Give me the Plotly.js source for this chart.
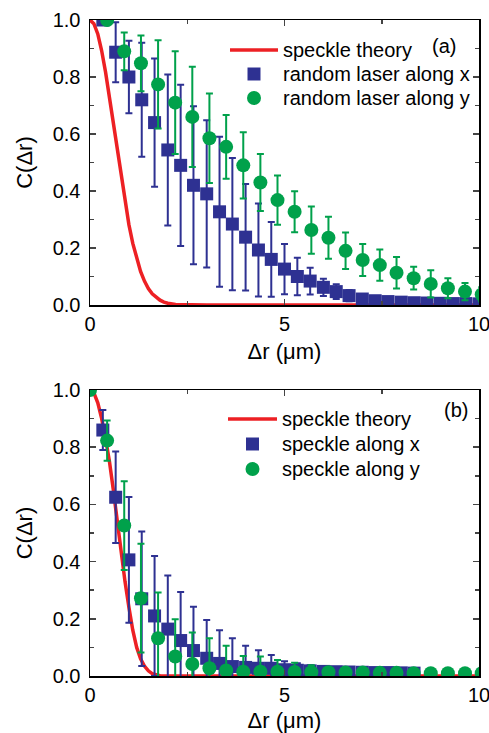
<!DOCTYPE html>
<html><head><meta charset="utf-8">
<script src="https://cdn.plot.ly/plotly-3.0.1.min.js"></script>
<style>html,body{margin:0;padding:0;background:#fff}#chart{width:489px;height:733px}</style>
</head><body><div id="chart"></div>
<script>
// ---------- Panel (a) ----------
const theoryA_x = [0,0.1,0.2,0.3,0.4,0.5,0.6,0.7,0.8,0.9,1.0,1.1,1.2,1.3,1.4,1.5,1.6,1.7,1.8,1.9,2.0,2.2,2.4,2.6,3.0,10];
const theoryA_y = [1,0.987,0.951,0.892,0.817,0.729,0.634,0.538,0.445,0.359,0.282,0.216,0.162,0.118,0.084,0.058,0.039,0.026,0.017,0.010,0.006,0.002,0.001,0,0,0];

const laserX_x = [0.33,0.66,1.0,1.33,1.66,2.0,2.33,2.66,3.0,3.33,3.66,4.0,4.33,4.66,5.0,5.33,5.66,6.0,6.33,6.66,7.0,7.33,7.66,8.0,8.33,8.66,9.0,9.33,9.66,10.0];
const laserX_y = [1.0,0.887,0.80,0.72,0.64,0.544,0.49,0.42,0.39,0.327,0.284,0.238,0.193,0.16,0.126,0.10,0.084,0.062,0.047,0.033,0.021,0.015,0.012,0.010,0.008,0.007,0.006,0.005,0.005,0.004];
const laserX_err = [0,0.105,0.127,0.2,0.225,0.265,0.283,0.277,0.258,0.263,0.232,0.187,0.163,0.131,0.088,0.066,0.047,0.03,0.026,0.02,0.015,0.01,0.006,0.005,0.005,0.004,0.004,0.003,0.003,0.003];

const laserY_x = [0.44,0.88,1.31,1.75,2.19,2.63,3.07,3.50,3.94,4.38,4.82,5.26,5.69,6.13,6.57,7.01,7.45,7.88,8.32,8.76,9.20,9.64,10.07];
const laserY_y = [1.0,0.89,0.848,0.774,0.71,0.66,0.585,0.555,0.49,0.43,0.368,0.327,0.263,0.236,0.19,0.158,0.14,0.113,0.094,0.074,0.059,0.047,0.037];
const laserY_err = [0,0.066,0.098,0.155,0.18,0.176,0.157,0.112,0.116,0.10,0.086,0.072,0.083,0.074,0.064,0.056,0.055,0.055,0.04,0.048,0.035,0.03,0.025];

// ---------- Panel (b) ----------
const theoryB_x = [0,0.1,0.2,0.3,0.4,0.5,0.6,0.7,0.8,0.9,1.0,1.1,1.2,1.3,1.4,1.5,1.6,1.7,1.8,2.0,10];
const theoryB_y = [1,0.99,0.955,0.90,0.83,0.75,0.65,0.54,0.43,0.33,0.24,0.16,0.10,0.06,0.035,0.018,0.008,0.003,0.001,0,0];

const speckX_x = [0.33,0.66,1.0,1.33,1.66,2.0,2.33,2.66,3.0,3.33,3.66,4.0,4.33,4.66,5.0,5.33,5.66,6.0,6.33,6.66,7.0,7.33,7.66,8.0,8.33];
const speckX_y = [0.86,0.625,0.406,0.27,0.21,0.164,0.124,0.089,0.062,0.044,0.033,0.03,0.027,0.027,0.022,0.02,0.018,0.016,0.015,0.014,0.013,0.012,0.012,0.011,0.01];
const speckX_err = [0.07,0.16,0.22,0.235,0.21,0.187,0.17,0.153,0.134,0.116,0.099,0.076,0.063,0.046,0.03,0.025,0.02,0.018,0.015,0.012,0.01,0.01,0.008,0.008,0.006];

const speckY_x = [0,0.44,0.88,1.31,1.75,2.19,2.63,3.07,3.50,3.94,4.38,4.82,5.26,5.69,6.13,6.57,7.01,7.45,7.88,8.32,8.76,9.20,9.64,10.07];
const speckY_y = [1.0,0.823,0.526,0.272,0.132,0.068,0.042,0.027,0.019,0.015,0.015,0.015,0.014,0.013,0.013,0.012,0.012,0.011,0.011,0.01,0.01,0.01,0.01,0.01];
const speckY_err = [0,0.07,0.155,0.19,0.16,0.13,0.11,0.105,0.087,0.055,0.053,0.041,0.032,0.025,0.015,0.012,0.01,0.008,0.006,0.005,0.005,0.004,0.004,0.004];

const legendA = ['speckle theory','random laser along x','random laser along y'];
const legendB = ['speckle theory','speckle along x','speckle along y'];
const panelLabels = ['(a)','(b)'];

const RED='#ed2024', BLUE='#2e3192', GREEN='#00a14b';
const FONT='Liberation Sans, Arial, sans-serif';
const W=489, H=733, ML=90, MR=10, PW=W-ML-MR;
const px=v=>(v-ML)/PW, py=v=>1-v/H;

function lineTrace(x,y,name,xa,ya){return {x:x,y:y,name:name,type:'scatter',mode:'lines',line:{color:RED,width:3.5},xaxis:xa,yaxis:ya,showlegend:false};}
function ptTrace(x,y,e,name,sym,size,col,xa,ya){return {x:x,y:y,name:name,type:'scatter',mode:'markers',
  marker:{symbol:sym,size:size,color:col},error_y:{type:'data',array:e,visible:true,color:col,thickness:2,width:3.5},
  xaxis:xa,yaxis:ya,showlegend:false};}

const data=[
  lineTrace(theoryA_x,theoryA_y,legendA[0],'x','y'),
  ptTrace(laserX_x,laserX_y,laserX_err,legendA[1],'square',13,BLUE,'x','y'),
  ptTrace(laserY_x,laserY_y,laserY_err,legendA[2],'circle',14,GREEN,'x','y'),
  lineTrace(theoryB_x,theoryB_y,legendB[0],'x2','y2'),
  ptTrace(speckX_x,speckX_y,speckX_err,legendB[1],'square',13,BLUE,'x2','y2'),
  ptTrace(speckY_x,speckY_y,speckY_err,legendB[2],'circle',14,GREEN,'x2','y2')
];

function xax(anchor){return {anchor:anchor,domain:[0,1],range:[0,10],dtick:5,tick0:0,ticks:'inside',ticklen:6,tickwidth:1.5,
  showline:true,linecolor:'#000',linewidth:1.5,mirror:'ticks',showgrid:false,zeroline:false,ticklabeloverflow:'allow',
  minor:{dtick:2.5,ticks:'inside',ticklen:4,tickwidth:1.5,showgrid:false},
  tickfont:{size:20,color:'#000',family:FONT},
  title:{text:'\u0394r (\u03bcm)',font:{size:22,color:'#000',family:FONT},standoff:10}};}
function yax(anchor,dom){return {anchor:anchor,domain:dom,range:[0,1],dtick:0.2,tick0:0,tickformat:'.1f',ticks:'inside',ticklen:6,tickwidth:1.5,
  showline:true,linecolor:'#000',linewidth:1.5,mirror:'ticks',showgrid:false,zeroline:false,
  minor:{dtick:0.1,ticks:'inside',ticklen:4,tickwidth:1.5,showgrid:false},
  tickfont:{size:20,color:'#000',family:FONT},ticklabelstandoff:4,
  title:{text:'C(\u0394r)',font:{size:22,color:'#000',family:FONT},standoff:14}};}

// hand-drawn legends: rows at given pixel heights
function legendItems(labels,rowY,lineX0,lineX1,textX){
  const shapes=[],ann=[];
  const cx=(lineX0+lineX1)/2;
  shapes.push({type:'line',xref:'paper',yref:'paper',x0:px(lineX0),x1:px(lineX1),y0:py(rowY[0]),y1:py(rowY[0]),line:{color:RED,width:3.5}});
  shapes.push({type:'rect',xref:'paper',yref:'paper',xsizemode:'pixel',ysizemode:'pixel',xanchor:px(cx),yanchor:py(rowY[1]),
    x0:-6.5,x1:6.5,y0:-6.5,y1:6.5,fillcolor:BLUE,line:{width:0}});
  shapes.push({type:'circle',xref:'paper',yref:'paper',xsizemode:'pixel',ysizemode:'pixel',xanchor:px(cx),yanchor:py(rowY[2]),
    x0:-7,x1:7,y0:-7,y1:7,fillcolor:GREEN,line:{width:0}});
  labels.forEach((t,i)=>ann.push({text:t,xref:'paper',yref:'paper',x:px(textX),y:py(rowY[i]),xanchor:'left',yanchor:'middle',
    showarrow:false,font:{size:20,family:FONT,color:'#000'}}));
  return {shapes,ann};
}
const LA=legendItems(legendA,[50,74,98],230,278,281);
const LB=legendItems(legendB,[419,444,469],228,277,280);

const layout={
  width:W,height:H,margin:{l:ML,r:MR,t:0,b:0},paper_bgcolor:'#fff',plot_bgcolor:'#fff',
  font:{family:FONT,color:'#000'},showlegend:false,
  xaxis:xax('y'),yaxis:yax('x',[1-305/H,1-20/H]),
  xaxis2:xax('y2'),yaxis2:yax('x2',[1-676/H,1-390/H]),
  shapes:LA.shapes.concat(LB.shapes),
  annotations:LA.ann.concat(LB.ann).concat([
    {text:panelLabels[0],xref:'x',yref:'y',x:9.1,y:0.91,showarrow:false,font:{size:20,family:FONT,color:'#000'}},
    {text:panelLabels[1],xref:'x2',yref:'y2',x:9.4,y:0.93,showarrow:false,font:{size:20,family:FONT,color:'#000'}}
  ])
};
Plotly.newPlot('chart',data,layout,{displayModeBar:false,staticPlot:true});
</script></body></html>
